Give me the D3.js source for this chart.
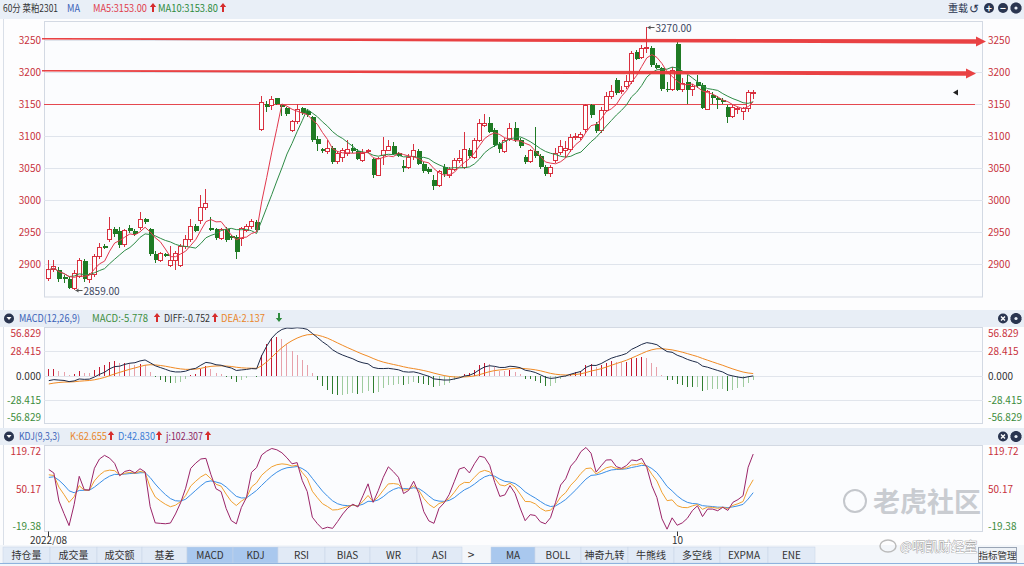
<!DOCTYPE html>
<html><head><meta charset="utf-8">
<script src="https://cdn.jsdelivr.net/npm/d3@7"></script>
<style>body{margin:0;background:#fff;overflow:hidden}svg{display:block;font-family:"Noto Sans CJK SC","Noto Sans",sans-serif}</style>
</head><body><svg id="c" width="1024" height="566"></svg>
<script>
// ---- data (60-minute bars, 菜粕2301) ----
const opens=[2877,2891,2891,2880,2876,2862,2880,2905,2876,2883,2911,2928,2938,2954,2951,2930,2956,2952,2957,2970,
2955,2916,2906,2915,2898,2906,2898,2927,2938,2959,2968,2988,2956,2954,2940,2955,2943,2942,2940,2953,
2958,2966,3110,3150,3148,3159,3148,3143,3109,3122,3143,3139,3129,3096,3079,3075,3081,3060,3067,3072,
3082,3077,3062,3076,3064,3039,3070,3078,3084,3073,3053,3051,3068,3077,3056,3048,3031,3022,3051,3039,
3048,3061,3051,3078,3067,3093,3117,3121,3109,3087,3076,3094,3112,3094,3067,3060,3077,3068,3051,3042,
3062,3074,3078,3079,3097,3097,3110,3148,3119,3108,3140,3162,3187,3169,3177,3185,3231,3223,3236,3237,
3211,3206,3174,3172,3244,3172,3185,3172,3185,3180,3142,3164,3159,3157,3145,3130,3141,3138,3143,3167];
const highs=[2906,2906,2895,2883,2880,2890,2910,2908,2886,2915,2933,2932,2973,2958,2958,2955,2961,2955,2982,2972,
2957,2920,2918,2917,2928,2920,2932,2946,2970,2962,3008,3017,2974,2957,2957,2958,2946,2945,2958,2962,
2970,2968,3162,3155,3162,3160,3150,3145,3125,3150,3146,3142,3131,3100,3082,3094,3084,3076,3082,3093,
3088,3080,3079,3080,3066,3067,3098,3093,3090,3075,3062,3072,3087,3079,3060,3052,3039,3047,3056,3052,
3066,3078,3106,3082,3097,3126,3135,3130,3112,3090,3097,3120,3122,3097,3070,3080,3114,3072,3055,3055,
3082,3094,3092,3103,3104,3106,3150,3150,3122,3145,3168,3180,3190,3178,3196,3233,3234,3242,3270,3240,
3214,3208,3185,3208,3247,3190,3195,3182,3195,3183,3172,3168,3162,3160,3148,3148,3146,3146,3172,3172];
const lows=[2874,2888,2872,2870,2861,2859,2878,2872,2870,2880,2908,2923,2935,2942,2925,2927,2948,2944,2953,2962,
2913,2902,2903,2911,2895,2890,2896,2924,2935,2950,2962,2985,2952,2938,2938,2935,2937,2908,2928,2950,
2955,2950,3108,3138,3140,3148,3132,3132,3107,3118,3133,3130,3090,3076,3073,3072,3056,3057,3060,3068,
3074,3062,3060,3073,3034,3037,3055,3076,3070,3067,3043,3048,3063,3054,3042,3040,3016,3020,3036,3034,
3045,3058,3049,3066,3064,3090,3114,3104,3083,3074,3074,3092,3090,3082,3056,3058,3066,3048,3037,3036,
3058,3070,3066,3075,3094,3094,3105,3128,3104,3105,3138,3158,3164,3166,3174,3182,3218,3220,3230,3208,
3204,3170,3168,3170,3170,3168,3150,3163,3175,3142,3140,3150,3142,3150,3120,3128,3135,3125,3138,3158];
const closes=[2891,2896,2877,2876,2862,2885,2905,2876,2883,2911,2926,2926,2954,2947,2930,2953,2951,2947,2970,2966,
2916,2906,2916,2913,2906,2916,2927,2938,2958,2952,2988,2995,2954,2940,2954,2938,2940,2918,2956,2958,
2966,2953,3152,3146,3157,3150,3145,3135,3122,3142,3136,3133,3093,3088,3078,3081,3060,3072,3077,3079,
3077,3064,3073,3078,3039,3065,3078,3084,3072,3069,3052,3067,3077,3057,3046,3043,3022,3044,3040,3048,
3061,3065,3079,3069,3093,3119,3120,3107,3086,3079,3093,3112,3093,3085,3060,3077,3068,3051,3041,3051,
3072,3084,3081,3098,3099,3103,3148,3133,3108,3140,3162,3169,3167,3171,3185,3229,3221,3237,3238,3211,
3207,3173,3172,3203,3172,3182,3172,3177,3178,3143,3169,3160,3156,3153,3130,3145,3143,3143,3168,3168];
const priceTicks=[3250,3200,3150,3100,3050,3000,2950,2900];
const macdTicks=[56.829,28.415,0,-28.415,-56.829];
const macdTickLabels=["56.829","28.415","0.000","-28.415","-56.829"];
const kdjTicks=[119.72,50.17,-19.38];
const kdjTickLabels=["119.72","50.17","-19.38"];
const arrowLevels=[3250,3200];
const supportLevel=3150;
const xTickIdx=[0,124];
const xTickLabels=["2022/08","10"];
const leftTabs=["持仓量","成交量","成交额","基差","MACD","KDJ","RSI","BIAS","WR","ASI"];
const rightTabs=["MA","BOLL","神奇九转","牛熊线","多空线","EXPMA","ENE"];
const activeTabs=["MACD","KDJ","MA"];

// ---- indicators derived from the closes ----
const n=closes.length;
function ma(p){return closes.map((c,i)=>{const s=closes.slice(Math.max(0,i-p+1),i+1);return d3.mean(s);});}
const ma5=ma(5), ma10=ma(10);
let e12=2886,e26=2893,dea=-11;const DIF=[],DEA=[],HIST=[];
closes.forEach(c=>{e12+=(c-e12)*2/13;e26+=(c-e26)*2/27;const d=e12-e26;dea+=(d-dea)*0.2;DIF.push(d);DEA.push(dea);HIST.push(2*(d-dea));});
let K=82,D=66;const KS=[],DS=[],JS=[];
closes.forEach((c,i)=>{const lo=d3.min(lows.slice(Math.max(0,i-8),i+1)),hi=d3.max(highs.slice(Math.max(0,i-8),i+1));
 const rsv=hi>lo?(c-lo)/(hi-lo)*100:50;K=(2*K+rsv)/3;D=(2*D+K)/3;KS.push(K);DS.push(D);JS.push(3*K-2*D);});

// ---- layout ----
const svg=d3.select("#c");
const L=44,R=983;
const x=d3.scaleLinear().domain([0,n-1]).range([48.3,752.7]);
const yP=d3.scaleLinear().domain([2848.4,3279.7]).range([297,21]);
const yM=d3.scaleLinear().domain([-56.829,56.829]).range([423.5,327.5]);
const yK=d3.scaleLinear().domain([-19.38,119.72]).range([531.5,445.5]);
const red="#c8323c";
const FS=10;

svg.append("rect").attr("width",1024).attr("height",566).attr("fill","#fdfdfe");
svg.append("rect").attr("width",1024).attr("height",19).attr("fill","#e9eff7");
svg.append("line").attr("x1",3.5).attr("x2",3.5).attr("y1",19).attr("y2",545).attr("stroke","#d9dfe8");

const defs=svg.append("defs");
[["cp",21,297],["cm",327.5,423.5],["ck",445.5,531.5]].forEach(([id,t,b])=>defs.append("clipPath").attr("id",id).append("rect").attr("x",L).attr("y",t).attr("width",R-L).attr("height",b-t));

// small trend arrow icon (shape)
function arrowIcon(cx,base,up,col){
 const p=up?`M${cx},${base-9}L${cx+3.2},${base-5}H${cx+1}V${base}H${cx-1}V${base-5}H${cx-3.2}Z`
           :`M${cx},${base}L${cx+3.2},${base-4}H${cx+1}V${base-9}H${cx-1}V${base-4}H${cx-3.2}Z`;
 svg.append("path").attr("d",p).attr("fill",col);}
// header segments: [x, width, colour, text] ; arrows: [cx, up, colour]
function headerLine(y,parts,arrows){parts.forEach(([xx,w,col,s])=>{svg.append("text").attr("x",xx).attr("y",y).attr("font-size",FS)
 .attr("fill",col).attr("textLength",w).attr("lengthAdjust","spacingAndGlyphs").text(s);});
 arrows.forEach(([cx,up,col])=>arrowIcon(cx,y,up,col));}
headerLine(12,[[3,55,"#333","60分 菜粕2301"],[67,13,"#3a62b8","MA"],[93,54,"#e0404e","MA5:3153.00"],[158,60,"#2e8b3e","MA10:3153.80"]],
 [[153,true,"#d62d2d"],[223,true,"#d62d2d"]]);
svg.append("text").attr("x",948).attr("y",12).attr("font-size",10).attr("fill","#2a3550").text("重载");
svg.append("text").attr("x",969).attr("y",13).attr("font-size",12).attr("fill","#2a3550").text("↺");
[[989,"+"],[1003,"−"]].forEach(([cx,s])=>{svg.append("circle").attr("cx",cx).attr("cy",8).attr("r",5).attr("fill","#2a3550");
 svg.append("text").attr("x",cx).attr("y",11.5).attr("text-anchor","middle").attr("font-size",10).attr("font-weight","bold").attr("fill","#fff").text(s);});
function gear(cx,cy){const g=svg.append("g").attr("transform",`translate(${cx},${cy})`);
 d3.range(8).forEach(k=>g.append("rect").attr("x",-1.3).attr("y",-5.5).attr("width",2.6).attr("height",11).attr("fill","#2a3550").attr("transform",`rotate(${k*22.5})`));
 g.append("circle").attr("r",3.8).attr("fill","#2a3550");g.append("circle").attr("r",1.6).attr("fill","#e9eff7");}
gear(1016,8);

// ---- price panel ----
svg.append("rect").attr("x",L+0.5).attr("y",21.5).attr("width",R-L-1).attr("height",275.5).attr("fill","#fbfcfe").attr("stroke","#d3d9e3");
svg.append("g").selectAll("line").data(priceTicks).join("line").attr("x1",L).attr("x2",R)
 .attr("y1",d=>Math.round(yP(d))+0.5).attr("y2",d=>Math.round(yP(d))+0.5).attr("stroke","#dfe4ec");
svg.append("g").selectAll("text").data(priceTicks).join("text").attr("x",41).attr("y",d=>yP(d)+4)
 .attr("text-anchor","end").attr("font-size",FS).attr("fill",red).text(d=>d);
svg.append("g").selectAll("text").data(priceTicks).join("text").attr("x",988).attr("y",d=>yP(d)+4)
 .attr("font-size",FS).attr("fill",red).text(d=>d);
svg.append("line").attr("x1",L).attr("x2",975).attr("y1",Math.round(yP(supportLevel))+0.5).attr("y2",Math.round(yP(supportLevel))+0.5).attr("stroke","#e5484f");

const pg=svg.append("g").attr("clip-path","url(#cp)");
const cg=pg.append("g").attr("shape-rendering","crispEdges");
d3.range(n).forEach(i=>{
 const up=closes[i]>=opens[i];const col=up?"#d8303f":"#1f7a24";const cx=Math.round(x(i));
 cg.append("line").attr("x1",cx+0.5).attr("x2",cx+0.5).attr("y1",yP(highs[i])).attr("y2",yP(lows[i])).attr("stroke",col);
 const t=yP(Math.max(opens[i],closes[i])),b=yP(Math.min(opens[i],closes[i]));
 if(up){cg.append("rect").attr("x",cx-1.5).attr("y",t).attr("width",4).attr("height",Math.max(1,b-t)).attr("fill","#fff").attr("stroke",col);}
 else{cg.append("rect").attr("x",cx-1.5).attr("y",t).attr("width",5).attr("height",Math.max(1.5,b-t)).attr("fill",col);}
});
const lineP=d3.line().x((d,i)=>x(i)+0.5).y(d=>yP(d));
pg.append("path").attr("d",lineP(ma10)).attr("fill","none").attr("stroke","#2e8b46").attr("stroke-width",1);
pg.append("path").attr("d",lineP(ma5)).attr("fill","none").attr("stroke","#e2384d").attr("stroke-width",1);

const arrowTips=[986,976];
arrowLevels.forEach((lv,k)=>{
 const yL=yP(lv)-1.2,yR=yP(lv)+1.5,tip=arrowTips[k],x1=tip-10;
 svg.append("polygon").attr("fill","#e8383a").attr("opacity",0.95)
  .attr("points",`42,${yL-0.8} ${x1},${yR-2.2} ${x1},${yR-5} ${tip},${yR} ${x1},${yR+5} ${x1},${yR+2.2} 42,${yL+0.8}`);
});
const iH=d3.maxIndex(highs), iL=d3.minIndex(lows);
[[iH,highs[iH]],[iL,lows[iL]]].forEach(([i,v])=>{
 const cx=Math.round(x(i))+0.5,yy=Math.round(yP(v))+0.5;
 svg.append("line").attr("x1",cx+1).attr("x2",cx+8).attr("y1",yy).attr("y2",yy).attr("stroke","#555");
 svg.append("path").attr("d",`M${cx+1},${yy}l3,-2v4z`).attr("fill","#555");
 svg.append("text").attr("x",cx+9).attr("y",yy+4).attr("font-size",FS).attr("fill","#3b4660").text(v.toFixed(2));
});
const yl=yP(closes[n-1]);
svg.append("path").attr("d",`M953,${yl}l5,-3v6z`).attr("fill","#222");

function panelHeader(y){svg.append("rect").attr("x",0).attr("y",y).attr("width",1024).attr("height",17).attr("fill","#e8eef6");
 svg.append("circle").attr("cx",9).attr("cy",y+8.5).attr("r",5).attr("fill","#2a3550");
 svg.append("path").attr("d",`M6.5,${y+7}h5l-2.5,3z`).attr("fill","#fff");
 svg.append("circle").attr("cx",1003).attr("cy",y+8.5).attr("r",5).attr("fill","#2a3550");
 svg.append("path").attr("d",`M1001,${y+6.5}l4,4M1005,${y+6.5}l-4,4`).attr("stroke","#fff").attr("stroke-width",1.4);
 gear(1016,y+8.5);}

// ---- MACD panel ----
panelHeader(310);
headerLine(322,[[19,61,"#3a62b8","MACD(12,26,9)"],[92,56,"#3f8f3f","MACD:-5.778"],[164,46,"#333","DIFF:-0.752"],[221,44,"#e8862a","DEA:2.137"]],
 [[157,true,"#d62d2d"],[215,true,"#d62d2d"],[279,false,"#2e8b3e"]]);
svg.append("rect").attr("x",L+0.5).attr("y",327.5).attr("width",R-L-1).attr("height",96).attr("fill","#fbfcfe").attr("stroke","#d3d9e3");
svg.append("g").selectAll("line").data(macdTicks.slice(1,4)).join("line").attr("x1",L).attr("x2",R)
 .attr("y1",d=>Math.round(yM(d))+0.5).attr("y2",d=>Math.round(yM(d))+0.5).attr("stroke","#e1e5ec");
const mcol=v=>v>0?red:(v<0?"#3c8c3c":"#333");
[41,988].forEach((xx,j)=>svg.append("g").selectAll("text").data(macdTicks).join("text").attr("x",xx).attr("text-anchor",j?"start":"end")
 .attr("y",d=>Math.min(421,Math.max(337,yM(d)+4))).attr("font-size",FS).attr("fill",mcol).text((d,i)=>macdTickLabels[i]));
const mg=svg.append("g").attr("clip-path","url(#cm)");
mg.append("g").attr("shape-rendering","crispEdges").selectAll("line").data(HIST).join("line")
 .attr("x1",(d,i)=>Math.round(x(i))+0.5).attr("x2",(d,i)=>Math.round(x(i))+0.5)
 .attr("y1",yM(0)).attr("y2",d=>yM(d)).attr("stroke-width",1.3)
 .attr("stroke",(d,i)=>{const p=i?HIST[i-1]:d;if(d>=0)return d>=p?"#c41a33":"#e7a1ab";return d<=p?"#2f7d2f":"#9fcb9f";});
const lineM=d3.line().x((d,i)=>x(i)+0.5).y(d=>yM(d));
mg.append("path").attr("d",lineM(DEA)).attr("fill","none").attr("stroke","#f08a24");
mg.append("path").attr("d",lineM(DIF)).attr("fill","none").attr("stroke","#1d2a48");

// ---- KDJ panel ----
panelHeader(428);
headerLine(440,[[19,41,"#3a62b8","KDJ(9,3,3)"],[70,37,"#e8862a","K:62.655"],[118,37,"#3a7bd5","D:42.830"],[166,37,"#8e1f63","j:102.307"]],
 [[111,true,"#d62d2d"],[159,true,"#d62d2d"],[208,true,"#d62d2d"]]);
svg.append("rect").attr("x",L+0.5).attr("y",445.5).attr("width",R-L-1).attr("height",86).attr("fill","#fbfcfe").attr("stroke","#d3d9e3");
[41,988].forEach((xx,j)=>svg.append("g").selectAll("text").data(kdjTicks).join("text").attr("x",xx).attr("text-anchor",j?"start":"end")
 .attr("y",d=>Math.min(530,Math.max(455,yK(d)+4))).attr("font-size",FS).attr("fill",d=>d<0?"#3c8c3c":red).text((d,i)=>kdjTickLabels[i]));
const kg=svg.append("g").attr("clip-path","url(#ck)");
const lineK=d3.line().x((d,i)=>x(i)+0.5).y(d=>yK(d));
kg.append("path").attr("d",lineK(DS)).attr("fill","none").attr("stroke","#3a8ee6");
kg.append("path").attr("d",lineK(KS)).attr("fill","none").attr("stroke","#f0a030");
kg.append("path").attr("d",lineK(JS)).attr("fill","none").attr("stroke","#9a2468");

// x axis
xTickIdx.forEach((i,k)=>{const xx=Math.round(x(i))+0.5;
 svg.append("line").attr("x1",xx).attr("x2",xx).attr("y1",531.5).attr("y2",536).attr("stroke","#333");
 svg.append("text").attr("x",xx).attr("y",544).attr("text-anchor","middle").attr("font-size",FS).attr("fill","#333").text(xTickLabels[k]);});

// watermark
svg.append("circle").attr("cx",855).attr("cy",501).attr("r",11).attr("fill","none").attr("stroke","#c4c7cc").attr("stroke-width",2);
svg.append("text").attr("x",873).attr("y",512).attr("font-size",27).attr("font-weight","bold").attr("fill","#b4b8be").attr("opacity",0.7).text("老虎社区");

// ---- tabs ----
svg.append("rect").attr("x",0).attr("y",545).attr("width",1024).attr("height",21).attr("fill","#f3f6fa");
const lb=[3,50,97,142,187,233,278,325,370,417,462];
leftTabs.forEach((t,i)=>{const act=activeTabs.includes(t);
 svg.append("rect").attr("x",lb[i]).attr("y",547).attr("width",lb[i+1]-lb[i]).attr("height",16).attr("fill",act?"#a9c8ee":"#e1eaf6").attr("stroke","#c6d4e6").attr("stroke-width",0.5);
 svg.append("text").attr("x",(lb[i]+lb[i+1])/2).attr("y",559).attr("text-anchor","middle").attr("font-size",FS).attr("fill","#333").text(t);});
svg.append("text").attr("x",471).attr("y",559).attr("text-anchor","middle").attr("font-size",12).attr("fill","#333").text(">");
const rb=[491,535,581,628,674,720,768,815];
rightTabs.forEach((t,i)=>{const act=activeTabs.includes(t);
 svg.append("rect").attr("x",rb[i]).attr("y",547).attr("width",rb[i+1]-rb[i]).attr("height",16).attr("fill",act?"#a9c8ee":"#e1eaf6").attr("stroke","#c6d4e6").attr("stroke-width",0.5);
 svg.append("text").attr("x",(rb[i]+rb[i+1])/2).attr("y",559).attr("text-anchor","middle").attr("font-size",FS).attr("fill","#333").text(t);});
svg.append("line").attr("x1",0).attr("x2",1024).attr("y1",563.5).attr("y2",563.5).attr("stroke","#8fb3de");
svg.append("rect").attr("x",978.5).attr("y",547.5).attr("width",38).attr("height",15).attr("fill","#eef2f7").attr("stroke","#9aa5b5");
svg.append("text").attr("x",997.5).attr("y",559).attr("text-anchor","middle").attr("font-size",9.5).attr("fill","#333").text("指标管理");
svg.append("ellipse").attr("cx",888).attr("cy",546).attr("rx",8).attr("ry",6).attr("fill","none").attr("stroke","#bbb").attr("stroke-width",1.5);
svg.append("text").attr("x",900).attr("y",551).attr("font-size",13).attr("fill","#fff").attr("stroke","#9a9a9a").attr("stroke-width",0.8).attr("paint-order","stroke").text("@啊凯财经室");
</script></body></html>
